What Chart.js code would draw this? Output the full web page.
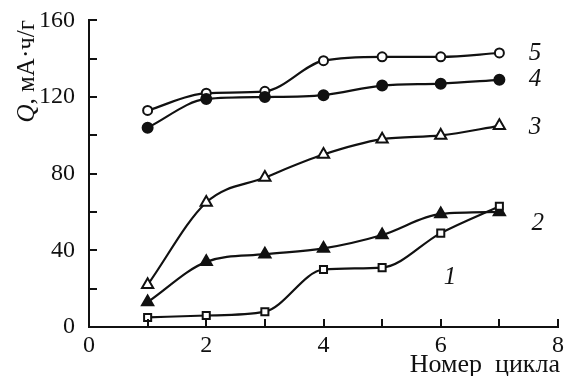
<!DOCTYPE html>
<html>
<head>
<meta charset="utf-8">
<script src="https://cdn.jsdelivr.net/npm/chart.js@4"></script>
<style>
  body { margin: 0; background: #fff; }
  #wrap { width: 567px; height: 376px; }
</style>
</head>
<body>
<div id="wrap"><canvas id="cycleChart"></canvas></div>
<script>
// data
var cycles = [1, 2, 3, 4, 5, 6, 7];
var series1 = [5, 6, 8, 30, 31, 49, 63];
var series2 = [13, 34, 38, 41, 48, 59, 60];
var series3 = [22, 65, 78, 90, 98, 100, 105];
var series4 = [104, 119, 120, 121, 126, 127, 129];
var series5 = [113, 122, 123, 139, 141, 141, 143];

// curve numbers and where they sit (data units)
var curveLabels = ['1', '2', '3', '4', '5'];
var labelX = [6.05, 7.55, 7.5, 7.5, 7.5];
var labelY = [26, 54, 104, 129, 143];

var xTitle = 'Номер  цикла';
var yTitleQ = 'Q';
var yTitleRest = ', мА·ч/г';

function points(ys) {
    return cycles.map(function (c, i) { return { x: c, y: ys[i] }; });
}

function makeSet(ys, style, filled, radius) {
    return {
        data: points(ys),
        borderColor: '#111',
        borderWidth: 2.2,
        pointStyle: style,
        pointRadius: radius,
        pointBorderWidth: 2,
        pointBackgroundColor: filled ? '#111' : '#fff',
        pointBorderColor: '#111',
        cubicInterpolationMode: 'monotone',
        fill: false
    };
}

var serif = '"Liberation Serif", "DejaVu Serif", serif';

// inner tick marks, curve numbers and axis titles
var decor = {
    id: 'decor',
    afterDraw: function (chart) {
        var c = chart.ctx;
        var xs = chart.scales.x, ys = chart.scales.y;
        c.save();
        c.strokeStyle = '#111';
        c.lineWidth = 2;
        c.beginPath();
        for (var v = 1; v <= 8; v++) {
            var px = Math.round(xs.getPixelForValue(v));
            c.moveTo(px, ys.bottom);
            c.lineTo(px, ys.bottom - 8);
        }
        for (var w = 20; w <= 160; w += 20) {
            var py = Math.round(ys.getPixelForValue(w));
            c.moveTo(xs.left, py);
            c.lineTo(xs.left + 8, py);
        }
        c.stroke();

        c.fillStyle = '#111';
        c.font = 'italic 25px ' + serif;
        c.textAlign = 'left';
        c.textBaseline = 'middle';
        for (var i = 0; i < curveLabels.length; i++) {
            c.fillText(curveLabels[i], xs.getPixelForValue(labelX[i]), ys.getPixelForValue(labelY[i]));
        }

        // x title
        c.font = '26px ' + serif;
        c.textAlign = 'right';
        c.textBaseline = 'alphabetic';
        c.fillText(xTitle, xs.right + 2, 372);

        // y title, rotated
        c.translate(34, 20);
        c.rotate(-Math.PI / 2);
        c.textAlign = 'right';
        c.textBaseline = 'alphabetic';
        c.font = '25px ' + serif;
        var restW = c.measureText(yTitleRest).width;
        c.fillText(yTitleRest, 0, 0);
        c.font = 'italic 25px ' + serif;
        c.fillText(yTitleQ, -restW, 0);
        c.restore();
    }
};

var ctx = document.getElementById('cycleChart').getContext('2d');
var cycleChart = new Chart(ctx, {
    type: 'line',
    data: {
        datasets: [
            makeSet(series1, 'rect', false, 5),
            makeSet(series2, 'triangle', true, 6.5),
            makeSet(series3, 'triangle', false, 6.5),
            makeSet(series4, 'circle', true, 5),
            makeSet(series5, 'circle', false, 4.5)
        ]
    },
    options: {
        responsive: true,
        maintainAspectRatio: false,
        animation: false,
        layout: { padding: { top: 20, right: 9, left: 0, bottom: 0 } },
        plugins: {
            legend: { display: false },
            tooltip: { enabled: false }
        },
        scales: {
            x: {
                type: 'linear',
                min: 0,
                max: 8,
                grid: { display: false },
                border: { display: true, color: '#111', width: 2 },
                ticks: {
                    stepSize: 2,
                    padding: -4,
                    color: '#111',
                    font: { family: serif, size: 24 }
                },
                afterFit: function (scale) { scale.height = 49; }
            },
            y: {
                min: 0,
                max: 160,
                grid: { display: false },
                border: { display: true, color: '#111', width: 2 },
                ticks: {
                    stepSize: 40,
                    padding: 6,
                    color: '#111',
                    font: { family: serif, size: 24 }
                },
                afterFit: function (scale) { scale.width = 89; }
            }
        }
    },
    plugins: [decor]
});
</script>
</body>
</html>
